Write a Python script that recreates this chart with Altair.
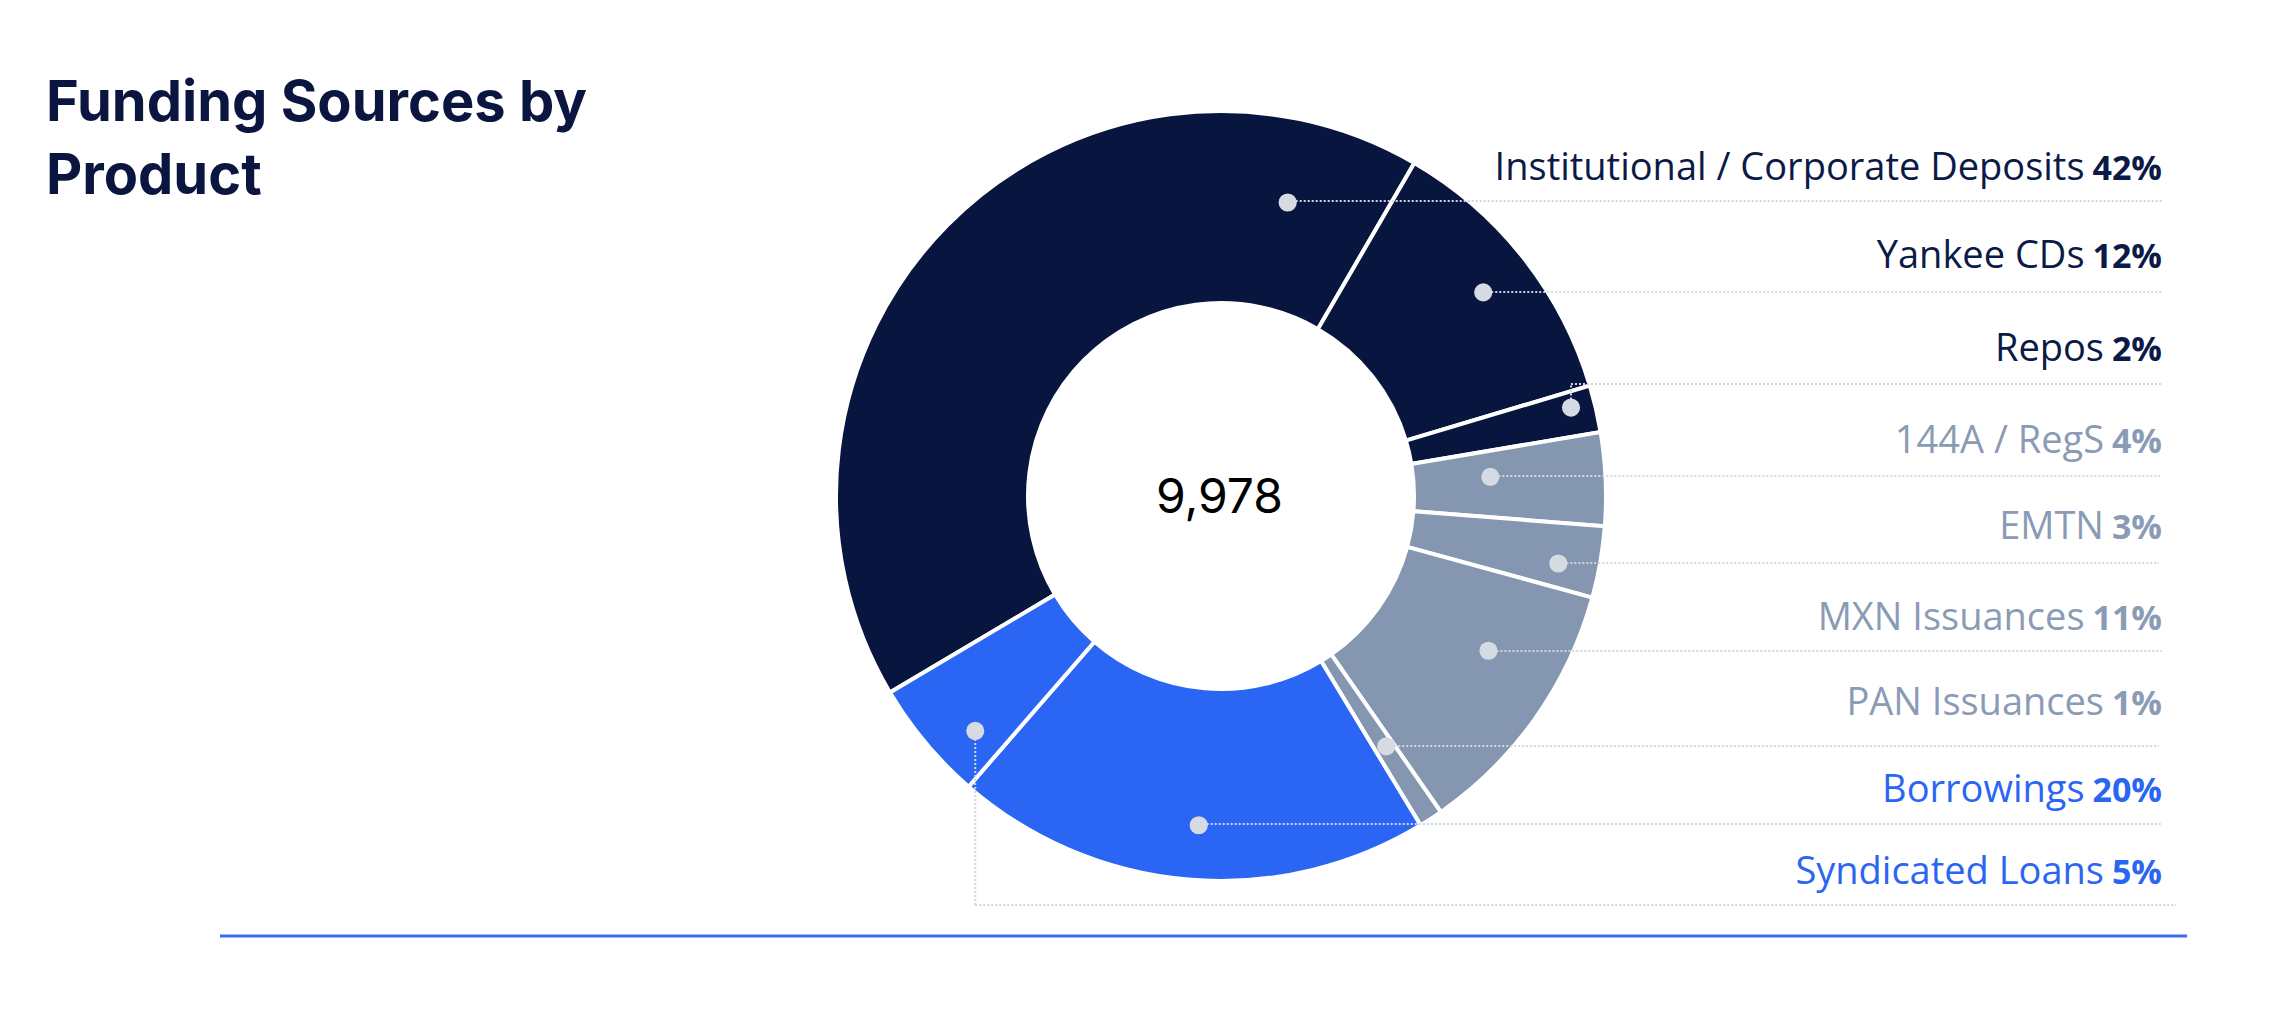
import math
import altair as alt
import pandas as pd

# ---------------- data ----------------
categories = [
    "Institutional / Corporate Deposits",
    "Yankee CDs",
    "Repos",
    "144A / RegS",
    "EMTN",
    "MXN Issuances",
    "PAN Issuances",
    "Borrowings",
    "Syndicated Loans",
]
amounts = [4181, 1197, 197, 390, 299, 1105, 100, 2001, 508]
groups = ["Deposits", "Deposits", "Deposits", "Debt", "Debt", "Debt", "Debt", "Loans", "Loans"]
title_lines = ["Funding Sources by", "Product"]

# ---------------- styles / layout ----------------
slice_colors = {"Deposits": "#07153F", "Debt": "#8597B0", "Loans": "#2A66F3"}
label_colors = {"Deposits": "#0B1A46", "Debt": "#8A9BB5", "Loans": "#2B66F2"}
DOT_COLOR = "#D5DAE3"
LEADER_COLOR = "#D0D6E0"

W, H = 2266, 990
X0, Y0 = 8, 8
CX, CY = 1221, 496
R_OUT, R_IN = 385, 193
START_DEG = 239.3

# annotation layout: where each leader dot sits inside its slice
dot_frac = [0.885, 0.51, 0.35, 0.39, 0.63, 0.37, 0.39, 0.486, 0.29]
dot_r = [301, 332, 361, 270, 344, 309, 300, 330, 340]
row_y = [201, 292, 384, 476, 563, 651, 746, 824, 905]
label_base = [180, 268, 361, 453, 539, 630, 715, 802, 884]
line_end = [2162, 2162, 2162, 2162, 2159, 2162, 2159, 2162, 2176]
TEXT_RIGHT = 2162
NAME_FS, PCT_FS = 38, 34

total = sum(amounts)
pcts = [round(100 * a / total) for a in amounts]

xs = alt.Scale(domain=[X0, X0 + W], nice=False, zero=False)
ys = alt.Scale(domain=[Y0, Y0 + H], nice=False, zero=False, reverse=True)

# ---------------- tables ----------------
arc_df = pd.DataFrame({
    "category": categories,
    "amount": amounts,
    "idx": list(range(len(categories))),
    "fill": [slice_colors[g] for g in groups],
})

rows = []
segs = []
cum = 0
for i, (c, a) in enumerate(zip(categories, amounts)):
    start = START_DEG + 360 * cum / total
    span = 360 * a / total
    cum += a
    ang = math.radians(start + dot_frac[i] * span)
    dx = CX + dot_r[i] * math.sin(ang)
    dy = CY - dot_r[i] * math.cos(ang)
    pct_txt = f"{pcts[i]}%"
    nd = len(str(pcts[i]))
    w_pct = nd * 0.572 * PCT_FS + 0.87 * PCT_FS
    rows.append({
        "category": c,
        "pct": pct_txt,
        "dot_x": dx,
        "dot_y": dy,
        "name_x": TEXT_RIGHT - w_pct - 9,
        "pct_x": TEXT_RIGHT,
        "text_y": label_base[i],
        "tcolor": label_colors[groups[i]],
    })
    segs.append({"x": dx, "x2": dx, "y": dy, "y2": row_y[i]})
    segs.append({"x": dx, "x2": line_end[i], "y": row_y[i], "y2": row_y[i]})

lab_df = pd.DataFrame(rows)
seg_df = pd.DataFrame(segs)

# ---------------- layers ----------------
arcs = alt.Chart(arc_df).mark_arc(
    outerRadius=R_OUT, innerRadius=R_IN, stroke="white", strokeWidth=4
).encode(
    theta=alt.Theta("amount:Q", stack=True,
                    scale=alt.Scale(range=[math.radians(START_DEG), math.radians(START_DEG) + 2 * math.pi])),
    color=alt.Color("fill:N", scale=None, legend=None),
    order=alt.Order("idx:Q"),
    x=alt.value(CX - X0),
    y=alt.value(CY - Y0),
)

leaders = alt.Chart(seg_df).mark_rule(
    color=LEADER_COLOR, strokeWidth=2, strokeDash=[2, 2]
).encode(
    x=alt.X("x:Q", scale=xs, axis=None),
    x2="x2:Q",
    y=alt.Y("y:Q", scale=ys, axis=None),
    y2="y2:Q",
)

dots = alt.Chart(lab_df).mark_circle(size=330, color=DOT_COLOR, opacity=1).encode(
    x=alt.X("dot_x:Q", scale=xs, axis=None),
    y=alt.Y("dot_y:Q", scale=ys, axis=None),
)

names = alt.Chart(lab_df).mark_text(
    align="right", baseline="alphabetic", font="Open Sans", fontSize=NAME_FS, fontWeight=400
).encode(
    x=alt.X("name_x:Q", scale=xs, axis=None),
    y=alt.Y("text_y:Q", scale=ys, axis=None),
    text="category:N",
    color=alt.Color("tcolor:N", scale=None, legend=None),
)

pct_text = alt.Chart(lab_df).mark_text(
    align="right", baseline="alphabetic", font="Open Sans", fontSize=PCT_FS, fontWeight=700
).encode(
    x=alt.X("pct_x:Q", scale=xs, axis=None),
    y=alt.Y("text_y:Q", scale=ys, axis=None),
    text="pct:N",
    color=alt.Color("tcolor:N", scale=None, legend=None),
)

center = alt.Chart(pd.DataFrame({"t": [f"{total:,}"], "x": [CX - 1.5], "y": [CY + 17]})).mark_text(
    align="center", baseline="alphabetic", font="Inter", fontSize=48, color="#000000"
).encode(
    x=alt.X("x:Q", scale=xs, axis=None),
    y=alt.Y("y:Q", scale=ys, axis=None),
    text="t:N",
)

title = alt.Chart(pd.DataFrame({"x": [46], "y": [121]})).mark_text(
    align="left", baseline="alphabetic", font="Inter", fontSize=56, fontWeight=700,
    color="#0A1640", lineHeight=73, text=title_lines,
).encode(
    x=alt.X("x:Q", scale=xs, axis=None),
    y=alt.Y("y:Q", scale=ys, axis=None),
)

bottom = alt.Chart(pd.DataFrame({"x": [220], "x2": [2187], "y": [936]})).mark_rule(
    color="#3B6FF0", strokeWidth=3
).encode(
    x=alt.X("x:Q", scale=xs, axis=None),
    x2="x2:Q",
    y=alt.Y("y:Q", scale=ys, axis=None),
)

chart = alt.layer(arcs, leaders, dots, names, pct_text, center, title, bottom).properties(
    width=W, height=H, padding=0, autosize="none", background="white"
).configure_view(stroke=None)

chart.save("out.html", embed_options={"renderer": "svg", "actions": False})
